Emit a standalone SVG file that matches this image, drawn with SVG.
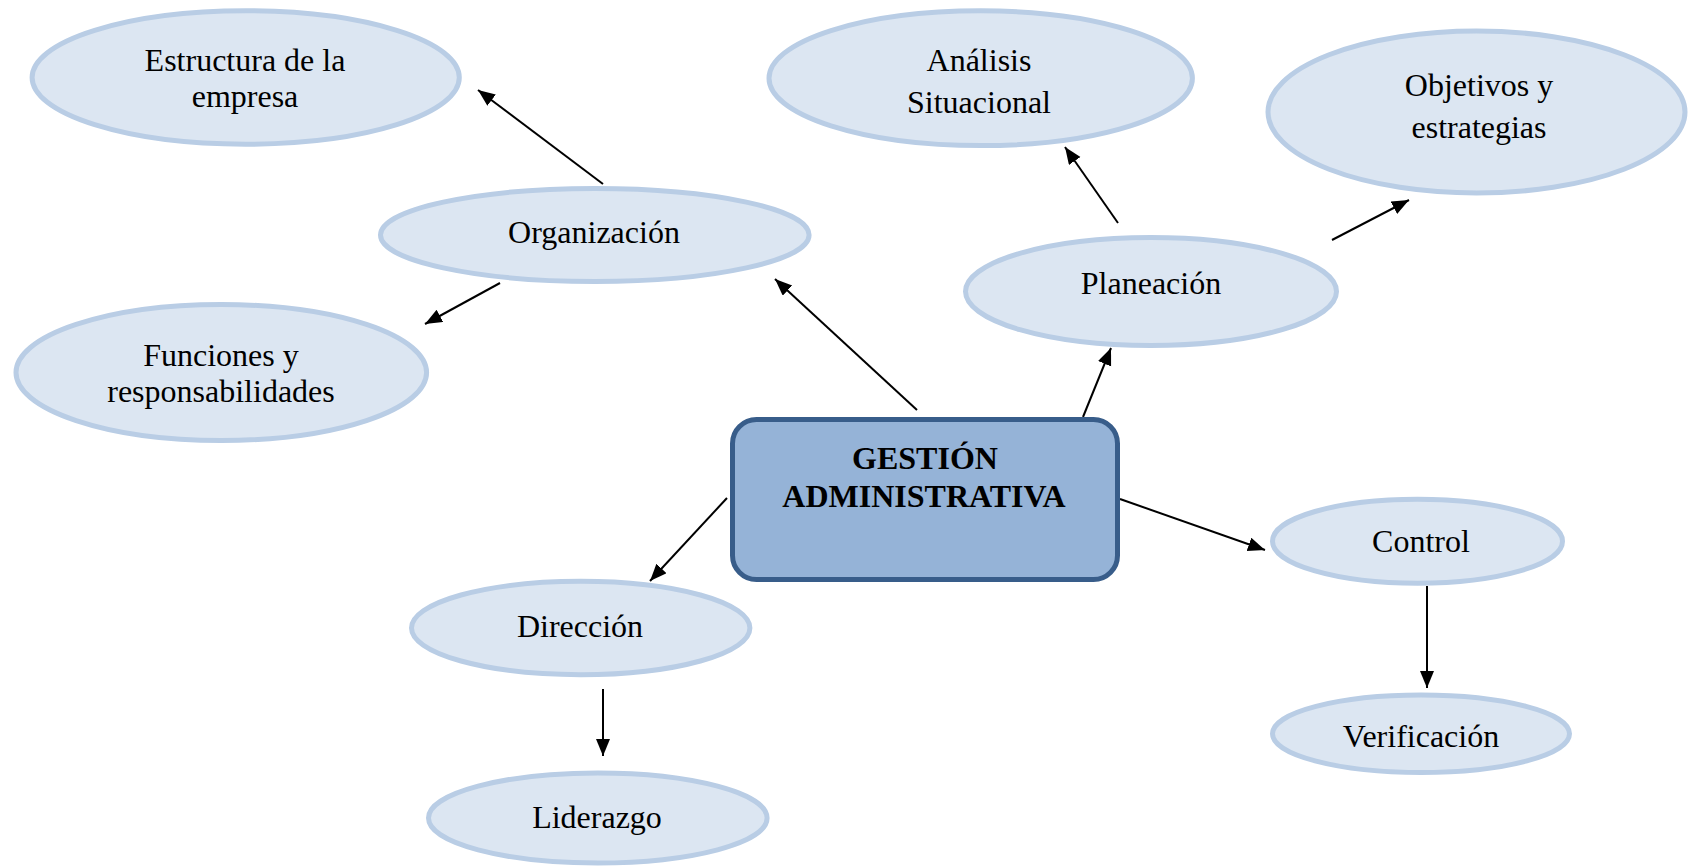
<svg xmlns="http://www.w3.org/2000/svg" width="1688" height="866" viewBox="0 0 1688 866">
<style>
.n{fill:#DCE6F2;stroke:#B9CDE5;stroke-width:5}
.t{font-family:"Liberation Serif","Times New Roman",serif;font-size:32px;fill:#000;text-anchor:middle}
.b{font-weight:bold}
.c{stroke:#000;stroke-width:2;fill:none;marker-end:url(#ah)}
</style>
<defs>
<marker id="ah" markerUnits="userSpaceOnUse" markerWidth="18" markerHeight="16" refX="17" refY="7" orient="auto">
<path d="M0,0 L17,7 L0,14 z" fill="#000"/>
</marker>
</defs>
<rect width="1688" height="866" fill="#fff"/>
<g id="connectors">
<line class="c" x1="603" y1="184" x2="478" y2="90"/>
<line class="c" x1="500" y1="283" x2="425" y2="324"/>
<line class="c" x1="917" y1="410" x2="775" y2="279"/>
<line class="c" x1="1118" y1="223" x2="1065" y2="147"/>
<line class="c" x1="1332" y1="240" x2="1409" y2="200"/>
<line class="c" x1="1083" y1="417" x2="1111" y2="348"/>
<line class="c" x1="727" y1="498" x2="650" y2="581"/>
<line class="c" x1="603" y1="689" x2="603" y2="756"/>
<line class="c" x1="1120" y1="499" x2="1265" y2="550"/>
<line class="c" x1="1427" y1="586" x2="1427" y2="688"/>
</g>
<g id="estructura"><ellipse class="n" cx="245.7" cy="77.5" rx="213.6" ry="66.7"/><text class="t" x="245" y="71">Estructura de la</text><text class="t" x="245" y="107">empresa</text></g>
<g id="organizacion"><ellipse class="n" cx="594.8" cy="235" rx="214.3" ry="46.5"/><text class="t" x="594" y="243">Organización</text></g>
<g id="funciones"><ellipse class="n" cx="221.3" cy="372.5" rx="205.3" ry="68"/><text class="t" x="221" y="366">Funciones y</text><text class="t" x="221" y="402">responsabilidades</text></g>
<g id="analisis"><ellipse class="n" cx="980.7" cy="78.2" rx="211.7" ry="67.4"/><text class="t" x="979" y="71">Análisis</text><text class="t" x="979" y="113">Situacional</text></g>
<g id="objetivos"><ellipse class="n" cx="1476.5" cy="112" rx="208.5" ry="81"/><text class="t" x="1479" y="96">Objetivos y</text><text class="t" x="1479" y="138">estrategias</text></g>
<g id="planeacion"><ellipse class="n" cx="1151" cy="291.5" rx="185.5" ry="54"/><text class="t" x="1151" y="294">Planeación</text></g>
<g id="gestion"><rect x="732.5" y="419.5" width="385" height="160" rx="24" fill="#95B3D7" stroke="#385D8A" stroke-width="5"/><text class="t b" x="925" y="469">GESTIÓN</text><text class="t b" x="924" y="507">ADMINISTRATIVA</text></g>
<g id="direccion"><ellipse class="n" cx="580.7" cy="628" rx="169.2" ry="46.7"/><text class="t" x="580" y="637">Dirección</text></g>
<g id="liderazgo"><ellipse class="n" cx="597.8" cy="818" rx="169.3" ry="45"/><text class="t" x="597" y="828">Liderazgo</text></g>
<g id="control"><ellipse class="n" cx="1417.5" cy="541.2" rx="145" ry="42"/><text class="t" x="1421" y="552">Control</text></g>
<g id="verificacion"><ellipse class="n" cx="1421" cy="733.8" rx="148.5" ry="38.7"/><text class="t" x="1421" y="747">Verificación</text></g>
</svg>
